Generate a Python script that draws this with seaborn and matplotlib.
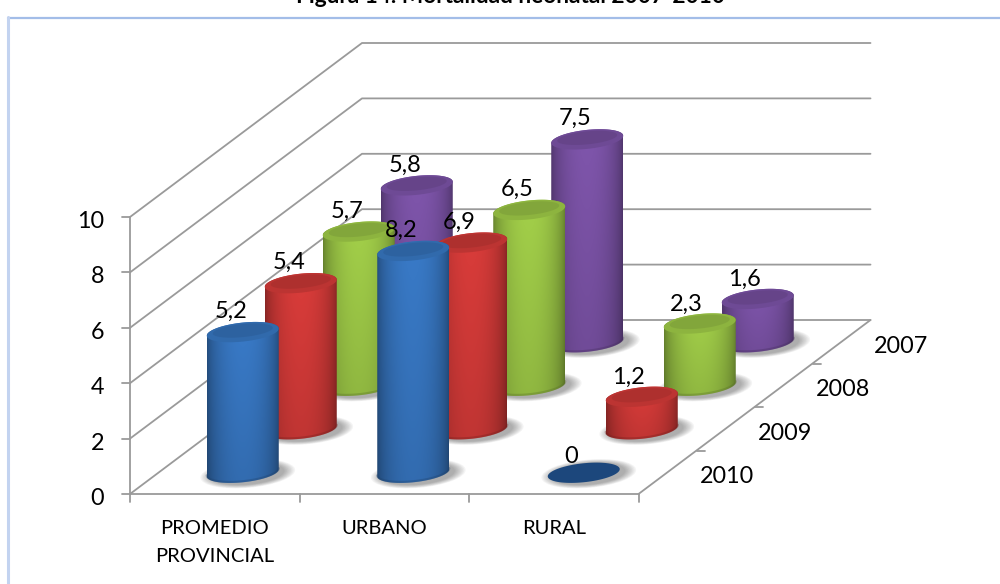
import numpy as np
import pandas as pd
import seaborn as sns
import matplotlib
matplotlib.use("Agg")
import matplotlib.pyplot as plt
from matplotlib.path import Path
from matplotlib.patches import PathPatch, Polygon, Ellipse
from matplotlib.colors import to_rgb

categories = ["PROMEDIO\nPROVINCIAL", "URBANO", "RURAL"]
years = ["2010", "2009", "2008", "2007"]
v2010 = [5.2, 8.2, 0]
v2009 = [5.4, 6.9, 1.2]
v2008 = [5.7, 6.5, 2.3]
v2007 = [5.8, 7.5, 1.6]
series = [v2010, v2009, v2008, v2007]
colors = ["#3878c4", "#d63b39", "#a0cc48", "#7d54a9"]
value_ticks = [0, 2, 4, 6, 8, 10]
title = "Figura 14. Mortalidad neonatal 2007-2010"

sns.set_theme(style="white")
plt.rcParams["font.family"] = ["Lato", "DejaVu Sans"]

fig = plt.figure(figsize=(10, 5.84), dpi=100)
ax = fig.add_axes([0, 0, 1, 1])
ax.set_xlim(0, 1000)
ax.set_ylim(584, 0)
ax.axis("off")

# oblique projection of (category, depth, value) on to the canvas
X0, Y0 = 130.0, 494.0
CAT_W, DEP_X, DEP_Y, VAL_WALL, VAL_BAR, VAL_LAB = 169.5, 58.0, 43.5, 27.7, 27.05, 27.3
def proj(cat, dep, val=0.0, unit=VAL_WALL):
    return X0 + cat * CAT_W + dep * DEP_X, Y0 - dep * DEP_Y - val * unit

GRID = "#9a9a9a"
ncat, ndep = len(categories), len(years)

# frame
ax.plot([8, 1000], [17.5, 17.5], color="#a3bde8", lw=1.6, zorder=1)
ax.plot([8, 8], [17, 584], color="#c3d3f0", lw=2.2, zorder=1)

# walls and floor, drawn as tidy line tables
rows = []
for i, v in enumerate(value_ticks):
    for k, (c, d) in enumerate([(0, 0), (0, ndep), (ncat, ndep)]):
        x, y = proj(c, d, v)
        rows.append(dict(line=f"v{i}", order=k, px=x, py=y))
for c, d0, d1 in [(0, 0, 0), (ncat, 0, ndep)]:
    for k, d in enumerate((d0, d1)):
        x, y = proj(c, d)
        rows.append(dict(line=f"f{c}", order=k, px=x, py=y))
for k, c in enumerate((0, ncat)):
    x, y = proj(c, 0)
    rows.append(dict(line="front", order=k, px=x, py=y))
for k, v in enumerate((0, value_ticks[-1])):
    x, y = proj(0, 0, v)
    rows.append(dict(line="axis", order=k, px=x, py=y))
lines = pd.DataFrame(rows)
sns.lineplot(data=lines, x="px", y="py", units="line", estimator=None, sort=False,
             color=GRID, lw=1.3, ax=ax, legend=False, zorder=2)
ax.set_xlim(0, 1000)
ax.set_ylim(584, 0)

# tick marks
for v in value_ticks:
    x, y = proj(0, 0, v)
    ax.plot([x - 8, x], [y, y], color=GRID, lw=1.3, zorder=2)
    ax.text(x - 26, y + 4.5, str(v), ha="right", va="center", fontsize=16.8, color="black")
for c in range(ncat + 1):
    x, y = proj(c, 0)
    ax.plot([x, x], [y, y + 8], color=GRID, lw=1.3, zorder=2)
for c, lab in enumerate(categories):
    x, y = proj(c + 0.5, 0)
    ax.text(x, y + 26, lab, ha="center", va="top", fontsize=14.5, color="black",
            linespacing=1.75)
for d in range(1, ndep + 1):
    x, y = proj(ncat, d)
    if d < ndep:
        ax.plot([x, x + 8], [y, y], color=GRID, lw=1.3, zorder=2)
for d, lab in enumerate(years):
    x, y = proj(ncat, d + 0.5)
    ax.text(x + 32, y + 4.5, lab, ha="left", va="center", fontsize=16.8, color="black")

ax.text(510, 3.0, title, ha="center", va="baseline", fontsize=16.3,
        fontweight="bold", color="black")

RX, RY, SHEAR = 36.0, 9.5, 3.6
def ell(cx, cy, t, rx=RX, ry=RY, sh=SHEAR):
    return cx + rx * np.cos(t), cy + ry * np.sin(t) - sh * np.cos(t)

def shaded(base, u, v):
    # u across the cylinder (-1..1), v down it (0..1)
    b = np.array(to_rgb(base))
    light = 0.60 + 0.42 * np.sqrt(np.clip(1 - (u * 0.98) ** 2, 0, 1)) ** 1.2
    light = light * (1.0 - 0.12 * v)
    return np.clip(b[None, None, :] * light[..., None], 0, 1)

def cylinder(cx, cy_base, h, base, z):
    # soft floor shadow
    for s, a in zip(np.linspace(1.32, 1.02, 9), [0.035] * 9):
        ax.add_patch(Ellipse((cx + 5, cy_base + 1), 2 * RX * s, 2 * RY * s * 1.12, angle=-5,
                             fc="#303030", ec="none", alpha=a * 1.5, zorder=z))
    top = cy_base - h
    if h <= 0:
        xe, ye = ell(cx, cy_base, np.linspace(0, 2 * np.pi, 80))
        ax.add_patch(Polygon(np.c_[xe, ye], fc="#1c477c", ec="none", zorder=z + 0.1))
        return
    t_low = np.linspace(np.pi, 0, 50)
    xb, yb = ell(cx, cy_base, t_low)
    t_up = np.linspace(0, np.pi, 50)
    xt, yt = ell(cx, top, -t_up)
    verts = np.r_[np.c_[xb, yb], np.c_[xt, yt]]
    # body gradient clipped to the silhouette
    xs = np.linspace(cx - RX, cx + RX, 73)
    ys = np.linspace(top - RY - 4, cy_base + RY + 4, 40)
    uu, vv = np.meshgrid((xs - cx) / RX, (ys - ys[0]) / (ys[-1] - ys[0]))
    im = ax.imshow(shaded(base, uu, vv), extent=[xs[0], xs[-1], ys[-1], ys[0]],
                   aspect="auto", zorder=z + 0.1, interpolation="bilinear")
    patch = PathPatch(Path(np.r_[verts, verts[:1]]), transform=ax.transData, fc="none", ec="none")
    ax.add_patch(patch)
    im.set_clip_path(patch)
    # dark rim along the base
    xr, yr = ell(cx, cy_base - 1, t_low[::-1])
    ax.plot(xr, yr, color=np.array(to_rgb(base)) * 0.55, lw=1.6, alpha=0.35, zorder=z + 0.2,
            solid_capstyle="round")
    # top cap with bevelled front rim
    xc, yc = ell(cx, top, np.linspace(0, 2 * np.pi, 90))
    ax.add_patch(Polygon(np.c_[xc, yc], fc=np.array(to_rgb(base)) * 0.88, ec="none", zorder=z + 0.3))
    xi, yi = ell(cx, top - 1.5, np.linspace(0, 2 * np.pi, 90), RX - 6, RY - 3, SHEAR * 0.8)
    ax.add_patch(Polygon(np.c_[xi, yi], fc=np.array(to_rgb(base)) * 0.80, ec="none", alpha=0.8,
                         zorder=z + 0.4))

z = 5.0
for d in range(ndep - 1, -1, -1):
    for c in range(ncat):
        val = series[d][c]
        cx, cy = proj(c + 0.5, d + 0.5)
        cx += c - 1.0
        cy += 0.5
        cylinder(cx, cy, val * VAL_BAR, colors[d], z)
        z += 1.0

for d in range(ndep):
    for c in range(ncat):
        val = series[d][c]
        cx, cy = proj(c + 0.5, d + 0.5)
        top = cy - val * VAL_LAB
        lab = f"{val:.1f}".replace(".", ",") if val else "0"
        ax.text(cx - 13 + 0.5 * c, top - 18.5 if val else top - 16, lab, ha="center", va="center",
                fontsize=17, color="black", zorder=100)

fig.savefig("out.png", dpi=100)
